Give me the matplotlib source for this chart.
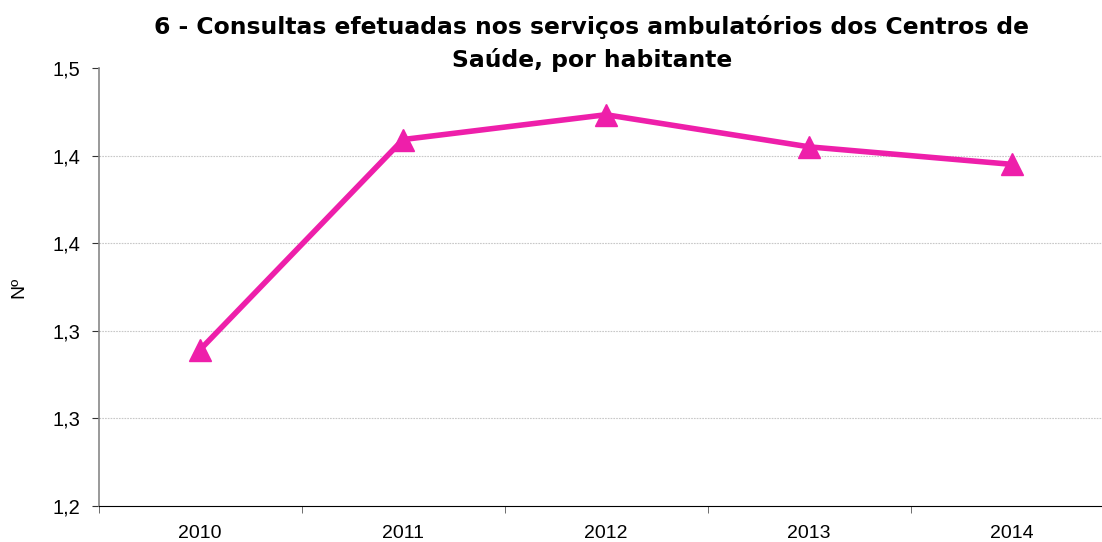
import matplotlib
matplotlib.use("Agg")
import matplotlib.pyplot as plt
from matplotlib.ticker import FixedLocator, FuncFormatter

years = ["2010", "2011", "2012", "2013", "2014"]
values = [1.307, 1.451, 1.468, 1.446, 1.434]
yticks = [1.2, 1.26, 1.32, 1.38, 1.44, 1.5]

title = "6 - Consultas efetuadas nos serviços ambulatórios dos Centros de\nSaúde, por habitante"
pink = "#EE1FAA"

plt.rcParams["font.family"] = ["Liberation Sans", "DejaVu Sans"]

fig = plt.figure(figsize=(11.02, 5.42), dpi=100)
ax = fig.add_axes([98.5 / 1102, 36 / 542, 1015 / 1102, 438 / 542])

x = list(range(len(years)))
ax.plot(x, values, color=pink, lw=4, marker="^", markersize=16, clip_on=False, zorder=3)

ax.set_xlim(-0.5, len(years) - 0.5)
ax.set_ylim(1.2, 1.5)
ax.yaxis.set_major_locator(FixedLocator(yticks))
ax.yaxis.set_major_formatter(FuncFormatter(lambda v, p: f"{v:.1f}".replace(".", ",")))
ax.set_xticks(x)
ax.set_xticklabels(years)
ax.xaxis.set_minor_locator(FixedLocator([i + 0.5 for i in range(-1, len(years))]))
ax.tick_params(axis="x", which="major", length=0, pad=14, labelsize=14)
ax.tick_params(axis="x", which="minor", length=5, direction="out", color="#555555")
ax.tick_params(axis="y", length=5, direction="out", pad=8, labelsize=14.5, color="#333333")

for t in yticks[1:-1]:
    ax.axhline(t, color="#c8c8c8", lw=0.8, ls=(0, (1.5, 1)), zorder=1)

ax.spines["top"].set_visible(False)
ax.spines["right"].set_visible(False)
ax.spines["left"].set_color("#888888")
ax.spines["left"].set_linewidth(1.2)
ax.spines["bottom"].set_color("black")

ax.set_ylabel("Nº", fontsize=14, labelpad=18)
fig.text(0.537, 0.972, title, ha="center", va="top", fontsize=16.9, fontweight="bold",
         family=["DejaVu Sans"], linespacing=1.45)

fig.savefig("out.png", dpi=100)
